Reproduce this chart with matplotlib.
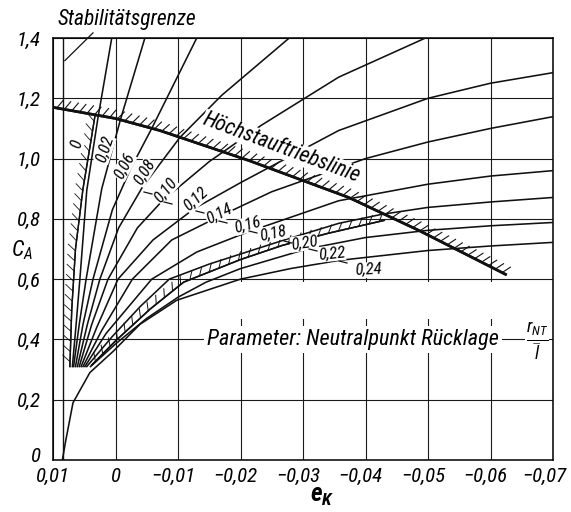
import matplotlib
matplotlib.use('Agg')
import matplotlib.pyplot as plt
from matplotlib import patheffects as pe
from matplotlib import font_manager as fm
from matplotlib.patches import Rectangle
from matplotlib.transforms import ScaledTranslation

avail = {f.name for f in fm.fontManager.ttflist}
cands = ['Liberation Sans Narrow', 'Roboto Condensed', 'Open Sans Condensed', 'Roboto', 'DejaVu Sans']
FAM = [c for c in cands if c in avail][:1] + ['DejaVu Sans']
plt.rcParams['font.family'] = FAM
plt.rcParams['font.style'] = 'italic'
plt.rcParams['font.stretch'] = 'condensed'
plt.rcParams['mathtext.fontset'] = 'custom'
plt.rcParams['mathtext.it'] = FAM[0] + ':italic'
plt.rcParams['mathtext.rm'] = FAM[0] + ':italic'
plt.rcParams['mathtext.bf'] = FAM[0] + ':italic:bold'

# ---- axes ----
x_ticks = [0.01, 0.0, -0.01, -0.02, -0.03, -0.04, -0.05, -0.06, -0.07]
x_tick_labels = ['0,01', '0', '\u22120,01', '\u22120,02', '\u22120,03', '\u22120,04', '\u22120,05', '\u22120,06', '\u22120,07']
y_ticks = [0, 0.2, 0.4, 0.6, 0.8, 1.0, 1.2, 1.4]
y_tick_labels = ['0', '0,2', '0,4', '0,6', '0,8', '1,0', '1,2', '1,4']

# ---- curves (parameter r_NT / l) ----
c000_x = [0.0073, 0.0070, 0.0064, 0.0052, 0.0040, 0.0033]
c000_y = [0.31, 0.50, 0.70, 0.90, 1.05, 1.14]
c002_x = [0.0069, 0.0063, 0.0057, 0.0046, 0.0028, 0.0006]
c002_y = [0.31, 0.45, 0.60, 0.894, 1.136, 1.40]
c006_x = [0.0067, 0.0058, 0.0047, 0.0022, -0.0008, -0.0047]
c006_y = [0.31, 0.45, 0.60, 0.90, 1.13, 1.40]
c008_x = [0.0064, 0.0052, 0.0036, 0.0005, -0.0025, -0.0058, -0.0130]
c008_y = [0.31, 0.45, 0.60, 0.83, 0.97, 1.10, 1.40]
c010_x = [0.0061, 0.0045, 0.0025, -0.0005, -0.0043, -0.0103, -0.0170, -0.0278]
c010_y = [0.31, 0.45, 0.60, 0.77, 0.905, 1.07, 1.21, 1.40]
c012_x = [0.0058, 0.0038, 0.0012, -0.0035, -0.0075, -0.0150, -0.0233, -0.0357, -0.0496]
c012_y = [0.31, 0.45, 0.60, 0.77, 0.86, 0.99, 1.11, 1.27, 1.40]
c014_x = [0.0055, 0.0030, -0.0004, -0.0060, -0.0126, -0.0200, -0.0357, -0.0500, -0.0600, -0.0700]
c014_y = [0.31, 0.44, 0.60, 0.73, 0.834, 0.92, 1.093, 1.20, 1.25, 1.285]
c016_x = [0.0052, 0.0022, -0.0027, -0.0090, -0.0158, -0.0250, -0.0400, -0.0500, -0.0600, -0.0700]
c016_y = [0.31, 0.43, 0.60, 0.73, 0.80, 0.89, 1.00, 1.055, 1.10, 1.139]
c018_x = [0.0049, 0.0015, -0.0058, -0.0130, -0.0210, -0.0357, -0.0500, -0.0600, -0.0700]
c018_y = [0.31, 0.42, 0.60, 0.69, 0.755, 0.86, 0.915, 0.942, 0.96]
c020_x = [0.0046, 0.0005, -0.0040, -0.0086, -0.0150, -0.0267, -0.0357, -0.0426, -0.0500, -0.0600, -0.0700]
c020_y = [0.31, 0.41, 0.51, 0.60, 0.65, 0.728, 0.785, 0.815, 0.838, 0.856, 0.871]
c022_x = [0.0040, 0.0000, -0.0050, -0.0100, -0.0145, -0.0200, -0.0306, -0.0400, -0.0500, -0.0600, -0.0700]
c022_y = [0.31, 0.385, 0.47, 0.54, 0.59, 0.635, 0.70, 0.738, 0.762, 0.777, 0.788]
c024_x = [0.0085, 0.0080, 0.0068, 0.0041, 0.0004, -0.0039, -0.0098, -0.0200, -0.0280, -0.0357, -0.0500, -0.0600, -0.0700]
c024_y = [0.00, 0.06, 0.19, 0.29, 0.36, 0.45, 0.53, 0.60, 0.635, 0.662, 0.695, 0.71, 0.722]

curve_labels = ['0', '0,02', '0,06', '0,08', '0,10', '0,12', '0,14', '0,16', '0,18', '0,20', '0,22', '0,24']
label_x = [0.0062, 0.0017, -0.0014, -0.0046, -0.0080, -0.0128, -0.0166, -0.0212, -0.0252, -0.0302, -0.0346, -0.0405]
label_y = [1.05, 1.03, 0.975, 0.955, 0.895, 0.865, 0.815, 0.78, 0.752, 0.72, 0.685, 0.63]
label_rot = [75, 72, 62, 58, 50, 42, 27, 15, 12, 9, 6, 3]
leader_px = [148, 168, 200, 223, 253, 288, 313, 343]     # leader dashes of labels 0,10 ... 0,24 (pixel x)
leader_py = [193, 203, 212, 222, 232, 242, 250, 262]

# ---- boundaries ----
hal_x = [0.0100, 0.0000, -0.0071, -0.0214, -0.0373, -0.0485, -0.0624]   # Höchstauftriebslinie
hal_y = [1.17, 1.133, 1.093, 0.993, 0.871, 0.762, 0.616]
lowb_x = [0.0038, 0.0000, -0.0055, -0.0109, -0.0200, -0.0267, -0.0340, -0.0430]
lowb_y = [0.315, 0.395, 0.50, 0.59, 0.665, 0.712, 0.752, 0.795]
stab_x = [0.0084, 0.0084]
stab_y = [0.0, 1.4]

W, H = 571, 512
fig = plt.figure(figsize=(W/100, H/100), dpi=100)
L, R, T, B = 53, 553, 38, 460
ax = fig.add_axes([L/W, 1-B/H, (R-L)/W, (B-T)/H])
ax.set_xlim(0.01, -0.07)
ax.set_ylim(0, 1.4)
ax.set_xticks(x_ticks)
ax.set_xticklabels(x_tick_labels, fontsize=15)
ax.set_yticks(y_ticks)
ax.set_yticklabels(y_tick_labels, fontsize=15)
ax.tick_params(axis='x', length=0, pad=5)
ax.tick_params(axis='y', length=0, pad=9)
ax.grid(True, color='#1a1a1a', lw=0.8)
for s in ax.spines.values():
    s.set_linewidth(1.1)
ax.set_axisbelow(True)

for i, lbl in enumerate(ax.get_xticklabels()):
    dx = 0 if i < 2 else (-5 if i < 8 else -9)
    lbl.set_transform(lbl.get_transform() + ScaledTranslation(dx/100, 0, fig.dpi_scale_trans))
ylbl0 = ax.get_yticklabels()[0]
ylbl0.set_transform(ylbl0.get_transform() + ScaledTranslation(0, 5/100, fig.dpi_scale_trans))

def px2data(px, py):
    return (ax.transData.inverted().transform((px, H - py)))

# blank area of the grid above the parameter text
ax.add_patch(Rectangle((-0.0155, 0.468), -0.0543, 0.124, facecolor='white', edgecolor='none', zorder=1))

LW = 1.15
INK = '#111111'
curves = [(c000_x, c000_y), (c002_x, c002_y), (c006_x, c006_y), (c008_x, c008_y),
          (c010_x, c010_y), (c012_x, c012_y), (c014_x, c014_y), (c016_x, c016_y),
          (c018_x, c018_y), (c020_x, c020_y), (c022_x, c022_y), (c024_x, c024_y)]
for i, (cx, cy) in enumerate(curves):
    if i == 0:
        ax.plot(cx, cy, color=INK, lw=1.0, zorder=3,
                path_effects=[pe.withTickedStroke(angle=50, spacing=7, length=1.0, linewidth=0.6), pe.Normal()])
    else:
        ax.plot(cx, cy, color=INK, lw=LW, zorder=3)

ax.plot(stab_x, stab_y, color=INK, lw=1.0, zorder=3)
ax.plot(hal_x, hal_y, color=INK, lw=1.9, zorder=3,
        path_effects=[pe.withTickedStroke(angle=60, spacing=5.5, length=1.3, linewidth=0.8), pe.Normal()])
ax.plot(lowb_x, lowb_y, color=INK, lw=1.1, zorder=3,
        path_effects=[pe.withTickedStroke(angle=55, spacing=7.5, length=0.85, linewidth=0.7), pe.Normal()])

for t, lx, ly, r in zip(curve_labels, label_x, label_y, label_rot):
    ax.text(lx, ly, t, fontsize=12, rotation=r, ha='center', va='center', zorder=5,
            rotation_mode='anchor', bbox=dict(facecolor='white', edgecolor='none', pad=0.3))

fig.canvas.draw()
for px, py in zip(leader_px, leader_py):
    x1, y1 = px2data(px - 4, py - 1)
    x2, y2 = px2data(px + 4, py + 1)
    ax.plot([x1, x2], [y1, y2], color=INK, lw=0.9, zorder=6)

ax.text(-0.0265, 1.036, 'Höchstauftriebslinie', fontsize=15.5, rotation=-20.5, ha='center', va='center',
        zorder=5, rotation_mode='anchor', bbox=dict(facecolor='white', edgecolor='none', pad=0.2))
ax.text(-0.0380, 0.40, 'Parameter: Neutralpunkt Rücklage', fontsize=16,
        ha='center', va='center', zorder=5, bbox=dict(facecolor='white', edgecolor='none', pad=2))
ax.text(-0.0674, 0.395, r'$\frac{r_{NT}}{\bar{l}}$', fontsize=19,
        ha='center', va='center', zorder=5, bbox=dict(facecolor='white', edgecolor='none', pad=0.5))

fig.text(58/W, 1-19/H, 'Stabilitätsgrenze', fontsize=15.5, ha='left', va='center')
ax.plot([0.0036, 0.0081], [1.417, 1.325], color=INK, lw=0.9, clip_on=False, zorder=6)
fig.text(22/W, 1-250/H, r'$C_A$', fontsize=16, ha='center', va='center')
fig.text(322/W, 1-496/H, r'$\mathbf{e_K}$', fontsize=18, ha='center', va='center')

fig.savefig('out.png', dpi=100)
